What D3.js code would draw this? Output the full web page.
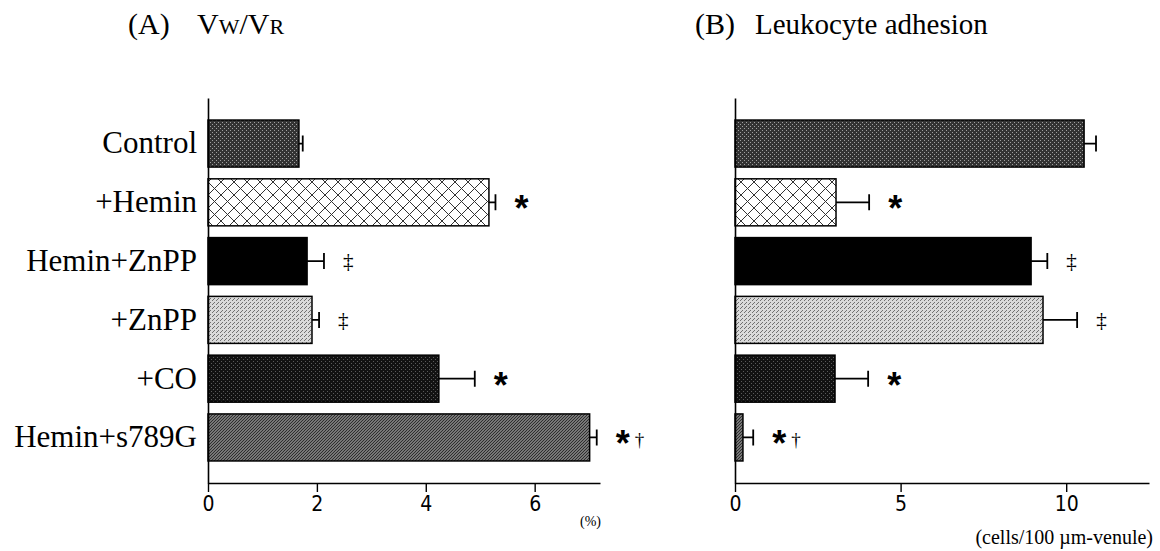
<!DOCTYPE html>
<html>
<head>
<meta charset="utf-8">
<script src="https://cdn.jsdelivr.net/npm/d3@7"></script>
<style>
  body { margin: 0; background: #fff; }
  text { fill: #000; }
</style>
</head>
<body>
<div id="chart"></div>
<script>
// data
const categories = ["Control", "+Hemin", "Hemin+ZnPP", "+ZnPP", "+CO", "Hemin+s789G"];

const vwvrMeans = [1.67, 5.16, 1.82, 1.91, 4.24, 7.01];
const vwvrErrors = [0.07, 0.12, 0.31, 0.13, 0.66, 0.13];
const vwvrMarks = ["", "*", "‡", "‡", "*", "*†"];
const vwvrTicks = [0, 2, 4, 6];

const adhesionMeans = [10.54, 3.05, 8.94, 9.30, 3.02, 0.24];
const adhesionErrors = [0.36, 1.00, 0.49, 1.03, 1.00, 0.31];
const adhesionMarks = ["", "*", "‡", "‡", "*", "*†"];
const adhesionTicks = [0, 5, 10];

const serif = "'Liberation Serif', 'Times New Roman', serif";
const narrow = "'Liberation Sans Narrow', 'DejaVu Sans Condensed', sans-serif";

const svg = d3.select("#chart")
  .append("svg")
  .attr("width", 1160)
  .attr("height", 551);

// fill patterns, one per group
const defs = svg.append("defs");

function stipple(id, bg, dot, pts) {
  const p = defs.append("pattern")
    .attr("id", id)
    .attr("patternUnits", "userSpaceOnUse")
    .attr("width", 4).attr("height", 4);
  p.append("rect").attr("width", 4).attr("height", 4).attr("fill", bg);
  pts.forEach(([x, y]) => p.append("rect")
    .attr("x", x).attr("y", y).attr("width", 1).attr("height", 1).attr("fill", dot));
}

stipple("ctrl", "#333", "#a0a0a0", [[0, 0], [2, 2]]);
stipple("znpp", "#dadada", "#707070", [[0, 0], [2, 2], [1, 3]]);
stipple("co", "#121212", "#5a5a5a", [[1, 1], [3, 3]]);

const cross = defs.append("pattern")
  .attr("id", "cross")
  .attr("patternUnits", "userSpaceOnUse")
  .attr("width", 13).attr("height", 13);
cross.append("rect").attr("width", 13).attr("height", 13).attr("fill", "#fff");
cross.append("path")
  .attr("d", "M0,0L13,13M13,0L0,13")
  .attr("stroke", "#333")
  .attr("stroke-width", 1);

const diag = defs.append("pattern")
  .attr("id", "diag")
  .attr("patternUnits", "userSpaceOnUse")
  .attr("width", 3).attr("height", 3);
diag.append("rect").attr("width", 3).attr("height", 3).attr("fill", "#9a9a9a");
diag.append("path")
  .attr("d", "M0,3L3,0M-1,1L1,-1M2,4L4,2")
  .attr("stroke", "#2a2a2a")
  .attr("stroke-width", 1.2);

const barFills = ["url(#ctrl)", "url(#cross)", "#000", "url(#znpp)", "url(#co)", "url(#diag)"];

// shared band scale for both panels
const yScale = d3.scaleBand()
  .domain(categories)
  .range([98, 483])
  .paddingInner(0.2)
  .paddingOuter(0.375);

function drawPanel(opts) {
  const g = svg.append("g");
  const xScale = d3.scaleLinear()
    .domain([0, opts.max])
    .range([opts.left, opts.right]);

  const rows = categories.map((c, i) => ({
    name: c, mean: opts.means[i], err: opts.errors[i], mark: opts.marks[i], fill: barFills[i]
  }));

  // bars
  g.selectAll("rect.bar")
    .data(rows)
    .join("rect")
    .attr("class", "bar")
    .attr("x", xScale(0))
    .attr("y", d => yScale(d.name))
    .attr("width", d => xScale(d.mean) - xScale(0))
    .attr("height", yScale.bandwidth())
    .attr("fill", d => d.fill)
    .attr("stroke", "#000")
    .attr("stroke-width", 1.5);

  // error bars
  const cy = d => yScale(d.name) + yScale.bandwidth() / 2;
  g.selectAll("path.err")
    .data(rows)
    .join("path")
    .attr("class", "err")
    .attr("d", d => {
      const x0 = xScale(d.mean), x1 = xScale(d.mean + d.err), y = cy(d);
      return `M${x0},${y}H${x1}M${x1},${y - 8}V${y + 8}`;
    })
    .attr("fill", "none")
    .attr("stroke", "#000")
    .attr("stroke-width", 1.8);

  // significance marks
  rows.forEach(d => {
    let x = xScale(d.mean + d.err) + opts.markGap;
    const y = cy(d);
    for (const ch of d.mark) {
      if (ch === "*") {
        g.append("text")
          .attr("x", x).attr("y", y + 19)
          .attr("font-family", "'Liberation Sans', Arial, sans-serif")
          .attr("font-weight", "bold")
          .attr("font-size", 36)
          .text("*");
        x += 19;
      } else if (ch === "‡") {
        g.append("text")
          .attr("x", x).attr("y", y + 7)
          .attr("font-family", serif)
          .attr("font-size", 21)
          .text("‡");
        x += 12;
      } else {
        g.append("text")
          .attr("x", x).attr("y", y + 9)
          .attr("font-family", serif)
          .attr("font-size", 19)
          .text(ch);
        x += 10;
      }
    }
  });

  // axes
  const xAxis = d3.axisBottom(xScale)
    .tickValues(opts.ticks)
    .tickSize(9)
    .tickSizeOuter(0)
    .tickPadding(4)
    .tickFormat(d3.format("d"));

  const gx = g.append("g")
    .attr("transform", "translate(0, 483)")
    .call(xAxis);
  gx.select(".domain").attr("stroke-width", 1.6);
  gx.selectAll(".tick line").attr("stroke-width", 1.4);
  gx.selectAll(".tick text")
    .attr("font-family", narrow)
    .attr("font-size", 21)
    .attr("fill", "#000");

  const yAxis = d3.axisLeft(yScale)
    .tickSize(0)
    .tickSizeOuter(0)
    .tickPadding(11)
    .tickFormat(opts.labels ? d => d : "");

  const gy = g.append("g")
    .attr("transform", `translate(${xScale(0)}, 0)`)
    .call(yAxis);
  gy.select(".domain").attr("stroke-width", 1.6);
  gy.selectAll(".tick text")
    .attr("font-family", serif)
    .attr("font-size", 31)
    .attr("fill", "#000");

  return g;
}

drawPanel({
  means: vwvrMeans, errors: vwvrErrors, marks: vwvrMarks, ticks: vwvrTicks,
  max: 7.2, left: 208, right: 600, markGap: 19, labels: true
});

drawPanel({
  means: adhesionMeans, errors: adhesionErrors, marks: adhesionMarks, ticks: adhesionTicks,
  max: 12.5, left: 735, right: 1149, markGap: 19, labels: false
});

// titles
const tA = svg.append("text")
  .attr("x", 128).attr("y", 34)
  .attr("font-family", serif)
  .attr("font-size", 30);
tA.append("tspan").text("(A)");
tA.append("tspan").attr("x", 197).text("V");
tA.append("tspan").attr("font-size", 22).text("W");
tA.append("tspan").text("/V");
tA.append("tspan").attr("font-size", 22).text("R");

const tB = svg.append("text")
  .attr("x", 695).attr("y", 34)
  .attr("font-family", serif)
  .attr("font-size", 30);
tB.append("tspan").text("(B)");
tB.append("tspan").attr("x", 755).attr("font-size", 29).text("Leukocyte adhesion");

// units
svg.append("text")
  .attr("x", 601).attr("y", 526)
  .attr("text-anchor", "end")
  .attr("font-family", serif)
  .attr("font-size", 14)
  .text("(%)");

svg.append("text")
  .attr("x", 1153).attr("y", 544)
  .attr("text-anchor", "end")
  .attr("font-family", serif)
  .attr("font-size", 20)
  .text("(cells/100 µm-venule)");
</script>
</body>
</html>
